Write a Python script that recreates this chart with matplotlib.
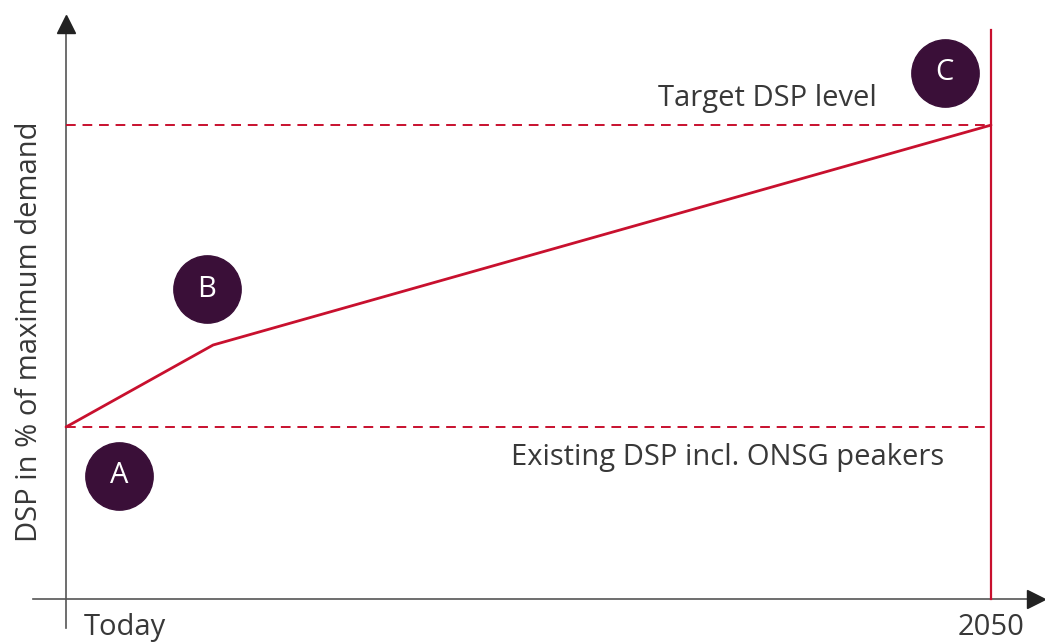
import matplotlib.pyplot as plt

plt.rcParams['font.family'] = ['Open Sans', 'DejaVu Sans']

# Data (x: 0 = Today, 1 = 2050; y: DSP in % of target level)
path_x = [0.0, 0.159, 1.0]
path_y = [36.3, 53.6, 100.0]
existing_level = 36.3
target_level = 100.0

markers = ['A', 'B', 'C']
marker_x = [0.057, 0.152, 0.950]
marker_y = [26.0, 65.4, 111.0]

tick_labels = ['Today', '2050']

red = '#C8102E'
purple = '#3A0F38'
grey = '#555555'
txt = '#383838'

fig = plt.figure(figsize=(10.45, 6.42), dpi=100)
ax = fig.add_axes([0, 0, 1, 1])
ax.set_xlim(-0.0714, 1.0584)
ax.set_ylim(-9.07, 126.4)
ax.axis('off')

# axes with arrows
ax.plot([0, 0], [-6.1, 121], color=grey, lw=1.2)
ax.plot([-0.0357, 1.045], [0, 0], color=grey, lw=1.2)
ax.plot(0, 121.3, marker='^', color='#222222', markersize=13, clip_on=False)
ax.plot(1.049, 0, marker='>', color='#222222', markersize=13, clip_on=False)

# levels
ax.plot([0, 1], [target_level, target_level], color=red, lw=1.4,
        dashes=(5, 3.5))
ax.plot([0, 1], [existing_level, existing_level], color=red, lw=1.4,
        dashes=(5, 3.5))
ax.plot([1, 1], [0, 120.0], color=red, lw=1.6)

# pathway
ax.plot(path_x, path_y, color=red, lw=2.0, solid_capstyle='round')

# circles
ax.scatter(marker_x, marker_y, s=2350, color=purple, zorder=5)
for lab, x, y in zip(markers, marker_x, marker_y):
    ax.text(x, y, lab, color='white', fontsize=21, ha='center', va='center',
            zorder=6)

ax.text(0.758, 105.6, 'Target DSP level', fontsize=21, color=txt,
        ha='center', va='center')
ax.text(0.715, 29.9, 'Existing DSP incl. ONSG peakers', fontsize=21,
        color=txt, ha='center', va='center')

ax.text(0.064, -6.1, tick_labels[0], fontsize=21, color=txt,
        ha='center', va='center')
ax.text(1.0, -6.1, tick_labels[1], fontsize=21, color=txt,
        ha='center', va='center')

ax.text(-0.0392, 56.5, 'DSP in % of maximum demand', fontsize=21,
        color=txt, rotation=90, ha='center', va='center')

fig.savefig('out.png', dpi=100)
